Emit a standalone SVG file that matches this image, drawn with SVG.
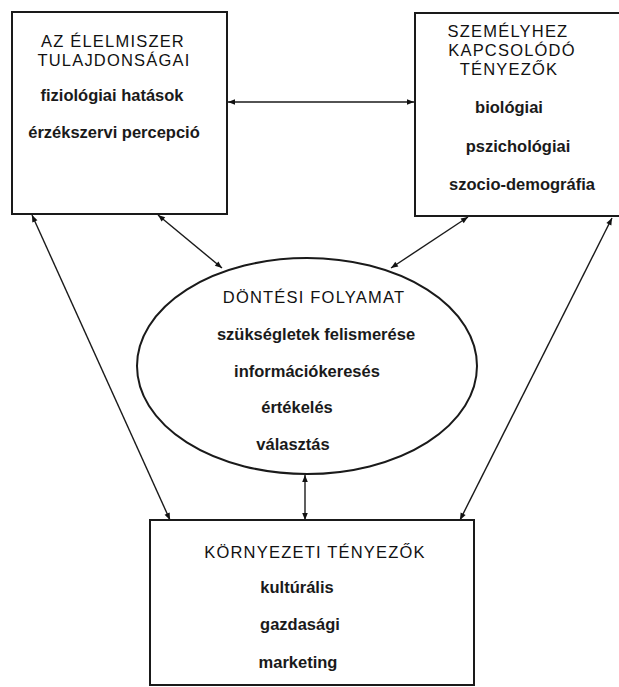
<svg xmlns="http://www.w3.org/2000/svg" width="619" height="687" viewBox="0 0 619 687">
<style>
.box{fill:#fff;stroke:#1a1a1a;stroke-width:2}
.ell{fill:#fff;stroke:#1a1a1a;stroke-width:2}
.h{font-family:"Liberation Sans",Arial,sans-serif;font-size:16.5px;letter-spacing:1.2px;fill:#111;text-anchor:middle}
.b{font-family:"Liberation Sans",Arial,sans-serif;font-size:16.5px;font-weight:bold;fill:#1a1a1a;text-anchor:middle}
.c{stroke:#1a1a1a;stroke-width:1.4;fill:none;marker-start:url(#ah);marker-end:url(#ah)}
</style>
<defs>
<marker id="ah" viewBox="0 0 10 10" refX="10" refY="5" markerWidth="9" markerHeight="7" markerUnits="userSpaceOnUse" orient="auto-start-reverse">
<path d="M0,1 L10,5 L0,9 Z" fill="#111"/>
</marker>
</defs>
<rect width="619" height="687" fill="#fff"/>
<g id="connectors">
<line class="c" x1="228" y1="102" x2="414" y2="102"/>
<line class="c" x1="158" y1="215" x2="222" y2="268"/>
<line class="c" x1="468" y1="217" x2="391" y2="268"/>
<line class="c" x1="32" y1="215" x2="170" y2="520"/>
<line class="c" x1="612" y1="218" x2="460" y2="520"/>
<line class="c" x1="305" y1="475" x2="305" y2="520"/>
</g>
<g id="node-elelmiszer">
<rect class="box" x="12" y="12" width="215" height="202"/>
<text class="h" x="113" y="47">AZ ÉLELMISZER</text>
<text class="h" x="114" y="66">TULAJDONSÁGAI</text>
<text class="b" x="112" y="101">fiziológiai hatások</text>
<text class="b" x="114" y="138">érzékszervi percepció</text>
</g>
<g id="node-szemely">
<rect class="box" x="415" y="13" width="230" height="203"/>
<text class="h" x="508" y="37">SZEMÉLYHEZ</text>
<text class="h" x="512" y="56">KAPCSOLÓDÓ</text>
<text class="h" x="509" y="75">TÉNYEZŐK</text>
<text class="b" x="509" y="113">biológiai</text>
<text class="b" x="518" y="152">pszichológiai</text>
<text class="b" x="522" y="190">szocio-demográfia</text>
</g>
<g id="node-dontesi">
<ellipse class="ell" cx="307" cy="366" rx="170" ry="108"/>
<text class="h" x="314" y="303">DÖNTÉSI FOLYAMAT</text>
<text class="b" x="316" y="340">szükségletek felismerése</text>
<text class="b" x="307" y="377">információkeresés</text>
<text class="b" x="297" y="413">értékelés</text>
<text class="b" x="293" y="450">választás</text>
</g>
<g id="node-kornyezeti">
<rect class="box" x="150" y="520" width="324" height="165"/>
<text class="h" x="315" y="558">KÖRNYEZETI TÉNYEZŐK</text>
<text class="b" x="297" y="593">kultúrális</text>
<text class="b" x="300" y="630">gazdasági</text>
<text class="b" x="298" y="668">marketing</text>
</g>
</svg>
